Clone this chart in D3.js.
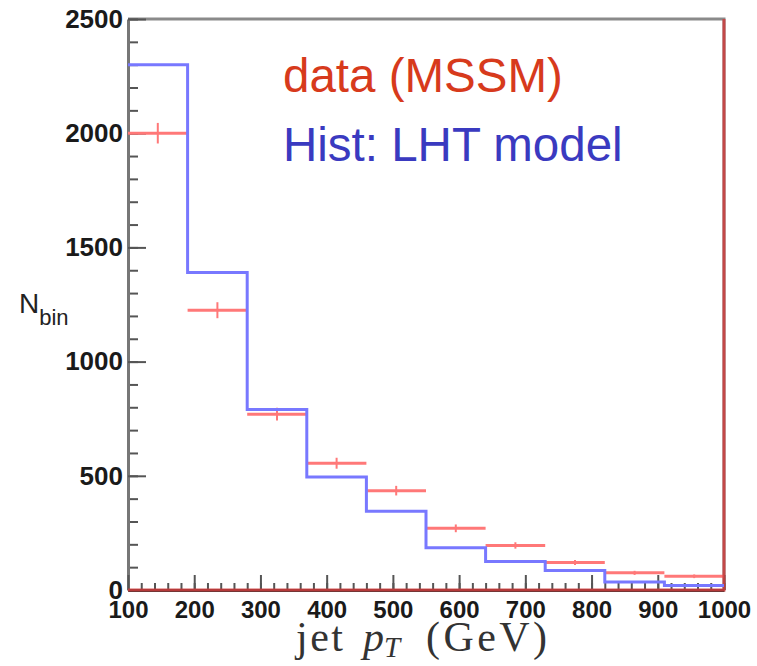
<!DOCTYPE html>
<html>
<head>
<meta charset="utf-8">
<script src="https://cdn.jsdelivr.net/npm/d3@7"></script>
<style>
  body { margin: 0; background: #fff; }
  svg { display: block; }
</style>
</head>
<body>
<script>
// bin edges of the jet pT histogram (GeV)
var binEdges = [100, 190, 280, 370, 460, 550, 640, 730, 820, 910, 1000];
// LHT model histogram (blue line)
var lhtCounts = [2300, 1390, 790, 495, 345, 185, 125, 85, 35, 20];
// MSSM "data" points (red crosses) and their errors
var mssmCounts = [2000, 1225, 770, 555, 435, 270, 195, 120, 75, 60];
var mssmErrors = [45, 35, 28, 24, 21, 17, 14, 11, 9, 8];
// axis ticks
var xTicks = [100, 200, 300, 400, 500, 600, 700, 800, 900, 1000];
var yTicks = [0, 500, 1000, 1500, 2000, 2500];

var W = 757, H = 666;
var margin = { top: 19, right: 33, bottom: 76, left: 128 };

var svg = d3.select("body").append("svg")
  .attr("width", W)
  .attr("height", H);

var x = d3.scaleLinear().domain([100, 1000]).range([margin.left, W - margin.right]);
var y = d3.scaleLinear().domain([0, 2500]).range([H - margin.bottom, margin.top]);

// frame (top and right sides)
svg.append("path")
  .attr("d", "M" + x(100) + "," + y(2500) + "H" + x(1000) + "V" + y(0))
  .attr("fill", "none")
  .attr("stroke", "#8a8a8a")
  .attr("stroke-width", 3);

// minor ticks
var yMinor = d3.range(0, 2501, 100);
var xMinor = d3.range(100, 1001, 20);

svg.append("g")
  .attr("transform", "translate(" + x(100) + ",0)")
  .call(d3.axisLeft(y).tickValues(yMinor).tickSize(-10).tickFormat(""))
  .call(function (g) { g.select(".domain").remove(); })
  .selectAll("line").attr("stroke", "#555").attr("stroke-width", 2);

svg.append("g")
  .attr("transform", "translate(0," + y(0) + ")")
  .call(d3.axisBottom(x).tickValues(xMinor).tickSize(-7).tickFormat(""))
  .call(function (g) { g.select(".domain").remove(); })
  .selectAll("line").attr("stroke", "#555").attr("stroke-width", 2);

// major axes
var yAxis = svg.append("g")
  .attr("transform", "translate(" + x(100) + ",0)")
  .call(d3.axisLeft(y).tickValues(yTicks).tickFormat(d3.format("d"))
    .tickSize(-18).tickSizeOuter(0).tickPadding(5));

var xAxis = svg.append("g")
  .attr("transform", "translate(0," + y(0) + ")")
  .call(d3.axisBottom(x).tickValues(xTicks).tickFormat(d3.format("d"))
    .tickSize(-15).tickSizeOuter(0).tickPadding(11));

yAxis.select(".domain").attr("stroke", "#777").attr("stroke-width", 3);
xAxis.select(".domain").attr("stroke", "#333").attr("stroke-width", 3);
yAxis.selectAll(".tick line").attr("stroke", "#555").attr("stroke-width", 2);
xAxis.selectAll(".tick line").attr("stroke", "#555").attr("stroke-width", 2);

yAxis.selectAll("text")
  .attr("font-family", "Liberation Sans, Arial, sans-serif")
  .attr("font-weight", "bold")
  .attr("font-size", 26)
  .attr("fill", "#1a1a1a");

xAxis.selectAll("text")
  .attr("font-family", "Liberation Sans, Arial, sans-serif")
  .attr("font-weight", "bold")
  .attr("font-size", 24)
  .attr("fill", "#1a1a1a");

// data (MSSM): red error crosses
var pts = mssmCounts.map(function (v, i) {
  return { lo: binEdges[i], hi: binEdges[i + 1], v: v, e: mssmErrors[i] };
});

var red = "rgb(255,120,120)";
var dataG = svg.append("g");
dataG.selectAll("line.h")
  .data(pts)
  .enter()
  .append("line")
  .attr("class", "h")
  .attr("x1", function (d) { return x(d.lo); })
  .attr("x2", function (d) { return x(d.hi); })
  .attr("y1", function (d) { return y(d.v); })
  .attr("y2", function (d) { return y(d.v); })
  .attr("stroke", red)
  .attr("stroke-width", 3);
dataG.selectAll("line.v")
  .data(pts)
  .enter()
  .append("line")
  .attr("class", "v")
  .attr("x1", function (d) { return x((d.lo + d.hi) / 2); })
  .attr("x2", function (d) { return x((d.lo + d.hi) / 2); })
  .attr("y1", function (d) { return y(d.v - d.e); })
  .attr("y2", function (d) { return y(d.v + d.e); })
  .attr("stroke", red)
  .attr("stroke-width", 2);

// red baseline and right edge of the data histogram
svg.append("path")
  .attr("d", "M" + x(100) + "," + y(0) + "H" + x(1000) + "V" + y(2500))
  .attr("fill", "none")
  .attr("stroke", "rgb(205,60,60)")
  .attr("stroke-width", 3)
  .attr("opacity", 0.85);

// LHT model histogram (blue step line)
var stepPts = lhtCounts.map(function (v, i) { return [binEdges[i], v]; });
stepPts.push([binEdges[binEdges.length - 1], lhtCounts[lhtCounts.length - 1]]);

var step = d3.line()
  .x(function (d) { return x(d[0]); })
  .y(function (d) { return y(d[1]); })
  .curve(d3.curveStepAfter);

svg.append("path")
  .datum(stepPts)
  .attr("d", step)
  .attr("fill", "none")
  .attr("stroke", "rgb(120,120,255)")
  .attr("stroke-width", 3);

// legend text
svg.append("text")
  .attr("x", 283)
  .attr("y", 92)
  .attr("font-family", "Liberation Sans, Arial, sans-serif")
  .attr("font-size", 47.5)
  .attr("fill", "rgb(215,58,28)")
  .text("data (MSSM)");

svg.append("text")
  .attr("x", 283)
  .attr("y", 161)
  .attr("font-family", "Liberation Sans, Arial, sans-serif")
  .attr("font-size", 47.5)
  .attr("fill", "rgb(58,58,192)")
  .text("Hist: LHT model");

// y axis title: N_bin
var yTitle = svg.append("text")
  .attr("x", 19)
  .attr("y", 313)
  .attr("font-family", "Liberation Sans, Arial, sans-serif")
  .attr("fill", "#222");
yTitle.append("tspan").attr("font-size", 28).text("N");
yTitle.append("tspan").attr("font-size", 22).attr("dy", 12).text("bin");

// x axis title: jet p_T (GeV)
var xTitle = svg.append("text")
  .attr("y", 651)
  .attr("font-family", "Liberation Serif, Times New Roman, serif")
  .attr("font-size", 42)
  .attr("fill", "#333");
xTitle.append("tspan").attr("x", 296).attr("textLength", 47).text("jet");
xTitle.append("tspan").attr("x", 363).attr("font-style", "italic").text("p");
xTitle.append("tspan").attr("font-style", "italic").attr("font-size", 29).attr("dy", 6).text("T");
xTitle.append("tspan").attr("x", 426).attr("dy", -6).attr("textLength", 121).text("(GeV)");
</script>
</body>
</html>
